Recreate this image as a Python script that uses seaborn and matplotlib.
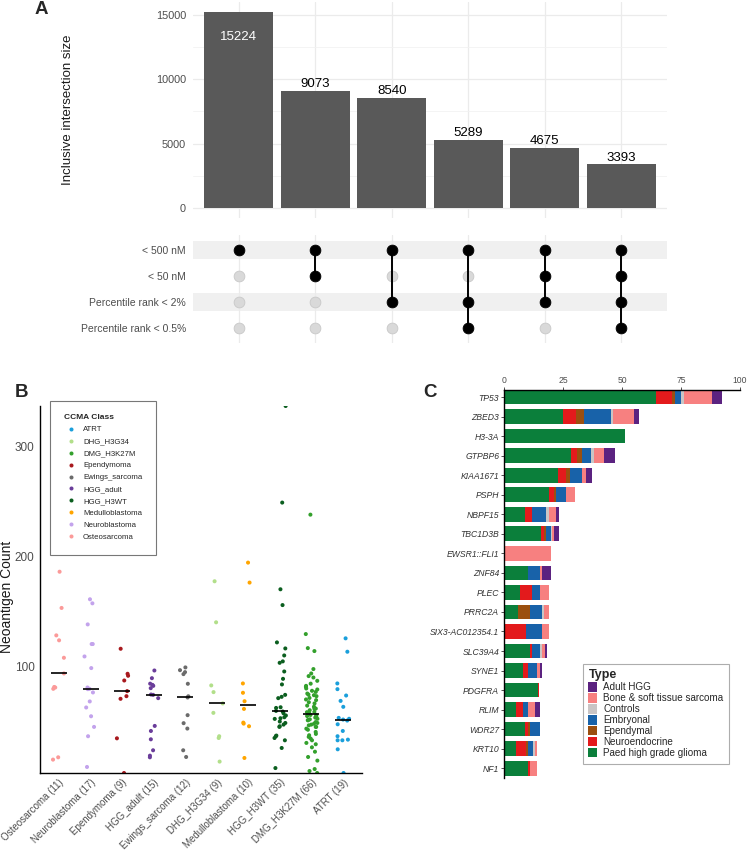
import numpy as np
import pandas as pd
import seaborn as sns
import matplotlib.pyplot as plt
from matplotlib.ticker import MultipleLocator

sns.set_theme(style="white")
plt.rcParams["font.family"] = ["Liberation Sans", "DejaVu Sans"]

# ---------------- panel A data (upset) ----------------
set_names = ["< 500 nM", "< 50 nM", "Percentile rank < 2%", "Percentile rank < 0.5%"]
inter_sizes = [15224, 9073, 8540, 5289, 4675, 3393]
inter_members = [
    ["< 500 nM"],
    ["< 500 nM", "< 50 nM"],
    ["< 500 nM", "Percentile rank < 2%"],
    ["< 500 nM", "Percentile rank < 2%", "Percentile rank < 0.5%"],
    ["< 500 nM", "< 50 nM", "Percentile rank < 2%"],
    ["< 500 nM", "< 50 nM", "Percentile rank < 2%", "Percentile rank < 0.5%"],
]

# ---------------- panel B data (neoantigen counts) ----------------
osteosarcoma = [186, 153, 128, 123.5, 107.6, 93.3, 81, 80.5, 79.3, 16.9, 14.8]
neuroblastoma = [160.9, 157.2, 138, 120.1, 120.1, 108.8, 98.2, 80.5, 79.3, 79.0, 76.0,
                 67.8, 62.3, 54.3, 44.6, 36.1, 8.1]
ependymoma = [115.8, 93.0, 91.2, 86.9, 77.2, 72.6, 70.2, 34.2, 2.6]
hgg_adult = [96.0, 89.0, 84.0, 82.9, 82.0, 79.9, 74.1, 73.8, 70.8, 45.5, 40.9, 33.3,
             23.3, 18.4, 16.9]
ewings_sarcoma = [98.8, 96.3, 94.5, 92.7, 83.9, 72.5, 71.4, 55.3, 48.0, 43.1, 23.3, 17.2]
dhg_h3g34 = [177.3, 139.9, 82.4, 76.3, 66.0, 57.4, 36.1, 34.5, 13.0]
medulloblastoma = [194.3, 176.1, 84.2, 75.7, 68.0, 61.0, 48.5, 47.6, 45.2, 16.3]
hgg_h3wt = [337, 249, 170, 155.6, 121.6, 116.1, 109.7, 104.3, 103.0, 95.1, 88.4, 83.3,
            73.8, 72.0, 70.8, 62.5, 61.9, 59.2, 58.6, 57.0, 55.0, 53.4, 52.5, 51.9,
            49.5, 48.2, 46.7, 45.2, 44.6, 36.7, 36.1, 34.5, 32.4, 25.4, 7.1]
dmg_h3k27m = [238, 129.2, 116.4, 113.7, 97.3, 93.3, 90.9, 89.6, 86.6, 84,
              82, 81.1, 79.6, 78.7, 77.5, 76.5, 75.0, 74, 73.5, 72.6,
              71, 69.6, 69.0, 67.1, 66, 64, 63, 61.3, 61.3, 59.8,
              58.3, 58.0, 57.5, 55.5, 55.3, 54.5, 54, 53.1, 52, 51.5,
              50.7, 50.7, 49, 48.2, 47.5, 46.7, 46, 44.6, 44.6, 43,
              42, 40, 38.2, 37, 35.5, 34.0, 32.4, 30.0, 28.8, 26,
              22, 17.2, 13.9, 6.2, 4.4, 2.6]
atrt = [125.3, 113.1, 84.2, 79.0, 73.2, 68.3, 62.9, 52.8, 52.0, 51.3, 50.4, 47.0,
        40.9, 36.1, 33.0, 32.4, 32.4, 24.2, 2.6]

ccma_classes = ["ATRT", "DHG_H3G34", "DMG_H3K27M", "Ependymoma", "Ewings_sarcoma",
                "HGG_adult", "HGG_H3WT", "Medulloblastoma", "Neuroblastoma", "Osteosarcoma"]
ccma_colors = ["#1a9fdb", "#b2df8a", "#33a02c", "#a8191e", "#6b6b6b",
               "#6a3d9a", "#0b5e1f", "#ffa500", "#c3a3ec", "#fb9a99"]
class_values = [atrt, dhg_h3g34, dmg_h3k27m, ependymoma, ewings_sarcoma,
                hgg_adult, hgg_h3wt, medulloblastoma, neuroblastoma, osteosarcoma]

# ---------------- panel C data (recurrent genes) ----------------
genes = ["TP53", "ZBED3", "H3-3A", "GTPBP6", "KIAA1671", "PSPH", "NBPF15", "TBC1D3B",
         "EWSR1::FLI1", "ZNF84", "PLEC", "PRRC2A", "SIX3-AC012354.1", "SLC39A4", "SYNE1",
         "PDGFRA", "RLIM", "WDR27", "KRT10", "NF1"]
paed_hgg = [64.2, 25.2, 51.1, 28.2, 23.0, 19.2, 9.0, 15.7, 0, 10.1, 6.9, 6.1, 0, 11.0, 8.0,
            14.2, 5.0, 9.0, 5.0, 10.1]
neuroendocrine = [7.1, 5.1, 0, 2.9, 3.1, 1.8, 3.0, 1.2, 0, 0, 5.1, 0, 9.2, 0.9, 2.1,
                  0.7, 3.0, 1.1, 4.2, 1.0]
ependymal = [1.0, 3.6, 0, 2.0, 1.9, 1.0, 0, 0.9, 0, 0, 0, 5.0, 0, 0, 0,
             0, 0, 1.0, 0.9, 0]
embryonal = [2.9, 11.3, 0, 3.9, 5.1, 4.2, 5.9, 2.1, 0, 5.0, 3.2, 4.8, 6.9, 3.2, 4.0,
             0, 2.1, 4.1, 2.0, 0]
controls = [1.1, 1.0, 0, 1.2, 0, 0, 1.3, 0.4, 0, 0, 0, 1.1, 0, 0.8, 0,
            0, 0, 0, 1.0, 0]
bone_sarcoma = [12.0, 9.0, 0, 4.1, 1.8, 3.9, 2.9, 0.9, 20.1, 1.1, 4.0, 2.2, 3.1, 1.3, 1.1,
                0, 3.0, 0, 1.0, 3.0]
adult_hgg = [4.0, 2.0, 0, 4.7, 2.3, 0, 1.0, 2.0, 0, 3.9, 0, 0, 0, 0.9, 0.9,
             0, 2.1, 0, 0, 0]
type_names = ["Adult HGG", "Bone & soft tissue sarcoma", "Controls", "Embryonal",
              "Ependymal", "Neuroendocrine", "Paed high grade glioma"]
type_colors = ["#5b2280", "#f78080", "#c9c5c5", "#1862a9", "#9b4f0f", "#e31a1c", "#0b7f3b"]
type_values = [adult_hgg, bone_sarcoma, controls, embryonal, ependymal, neuroendocrine, paed_hgg]

W, H = 748, 852
fig = plt.figure(figsize=(W / 100, H / 100), dpi=100)


def box(x0, y0, x1, y1):
    return [x0 / W, 1 - y1 / H, (x1 - x0) / W, (y1 - y0) / H]


grey_txt = "#4d4d4d"

# ================= A: intersection bars =================
axA = fig.add_axes(box(193, 2, 667, 218))
dfA = pd.DataFrame({"inter": range(len(inter_sizes)), "size": inter_sizes})
sns.barplot(data=dfA, x="inter", y="size", color="#595959", saturation=1, width=0.9,
            linewidth=0, ax=axA)
axA.set_xlim(-0.6, len(inter_sizes) - 0.4)
axA.set_ylim(-0.05 * max(inter_sizes), 1.05 * max(inter_sizes))
axA.set_yticks([0, 5000, 10000, 15000])
axA.yaxis.set_minor_locator(MultipleLocator(2500))
axA.grid(True, which="major", color="#ebebeb", lw=0.9)
axA.grid(True, which="minor", axis="y", color="#f2f2f2", lw=0.6)
axA.set_axisbelow(True)
axA.tick_params(axis="x", labelbottom=False, length=0)
axA.tick_params(axis="y", which="both", length=0, labelsize=7.8, labelcolor=grey_txt, pad=5)
for s in axA.spines.values():
    s.set_visible(False)
for i, v in enumerate(inter_sizes):
    if i == 0:
        axA.text(i, v - 1450, str(v), ha="center", va="top", color="white", fontsize=9.5)
    else:
        axA.text(i, v + 60, str(v), ha="center", va="bottom", color="black", fontsize=9.5)
axA.set_xlabel("")
axA.set_ylabel("Inclusive intersection size", fontsize=9.5, color="#1a1a1a")
axA.yaxis.set_label_coords(-0.252, 0.5)

# ================= A: matrix =================
axM = fig.add_axes(box(193, 235, 667, 343))
rows = []
for j, mem in enumerate(inter_members):
    for i, s in enumerate(set_names):
        rows.append({"inter": j, "row": i, "member": s in mem})
dfM = pd.DataFrame(rows)
for i in range(0, len(set_names), 2):
    axM.axhspan(i - 0.35, i + 0.35, color="#f0f0f0", zorder=0, lw=0)
sns.scatterplot(data=dfM[~dfM["member"]], x="inter", y="row", color="#d9d9d9", s=60,
                edgecolor="#c8c8c8", linewidth=0.6, ax=axM, zorder=3)
sns.scatterplot(data=dfM[dfM["member"]], x="inter", y="row", color="black", s=60,
                edgecolor="black", linewidth=0.6, ax=axM, zorder=4)
on = dfM[dfM["member"]].groupby("inter")["row"].agg(["min", "max"])
axM.vlines(on.index, on["min"], on["max"], color="black", lw=1.4, zorder=3)
axM.set_xlim(-0.6, len(inter_sizes) - 0.4)
axM.set_ylim(len(set_names) - 0.4, -0.6)
axM.set_xticks(range(len(inter_sizes)))
axM.set_yticks(range(len(set_names)))
axM.set_yticklabels(set_names)
axM.grid(True, axis="x", color="#ebebeb", lw=0.9)
axM.grid(False, axis="y")
axM.set_axisbelow(True)
axM.tick_params(axis="x", labelbottom=False, length=0)
axM.tick_params(axis="y", length=0, labelsize=7.5, labelcolor=grey_txt, pad=5)
axM.set_xlabel("")
axM.set_ylabel("")
for s in axM.spines.values():
    s.set_visible(False)

# ================= B: neoantigen strip plot =================
axB = fig.add_axes(box(40, 406, 362, 773))
dfB = pd.DataFrame({
    "cls": np.repeat(ccma_classes, [len(v) for v in class_values]),
    "count": np.concatenate(class_values),
})
med = dfB.groupby("cls")["count"].median().sort_values(ascending=False)
order = list(med.index)
n_per = dfB.groupby("cls").size()
pal = dict(zip(ccma_classes, ccma_colors))
np.random.seed(3)
sns.pointplot(data=dfB, x="cls", y="count", order=order, estimator="median", errorbar=None,
              color="black", markers="_", markersize=11, markeredgewidth=1.2,
              linestyle="none", ax=axB, zorder=3)
sns.stripplot(data=dfB, x="cls", y="count", order=order, hue="cls", hue_order=ccma_classes,
              palette=pal, jitter=0.2, size=2.9, linewidth=0, ax=axB, zorder=2, legend=True)
axB.set_xlim(-0.6, len(order) - 0.4)
axB.set_ylim(dfB["count"].min(), dfB["count"].max())
axB.set_yticks([100, 200, 300])
axB.set_xticks(range(len(order)))
axB.set_xticklabels([f"{c} ({n_per[c]})" for c in order], rotation=45, ha="right",
                    va="top", rotation_mode="anchor")
axB.tick_params(axis="x", labelsize=7, labelcolor=grey_txt, length=0, pad=3)
axB.tick_params(axis="y", labelsize=8.5, labelcolor=grey_txt, length=0, pad=4)
for side in ["top", "right"]:
    axB.spines[side].set_visible(False)
for side in ["left", "bottom"]:
    axB.spines[side].set_color("black")
    axB.spines[side].set_linewidth(1.0)
axB.set_xlabel("")
axB.set_ylabel("Neoantigen Count", fontsize=10, color="#1a1a1a")
axB.yaxis.set_label_coords(-0.082, 0.48)
sns.move_legend(axB, "upper left", bbox_to_anchor=(0.031, 1.014), borderaxespad=0,
                title="CCMA Class", frameon=True, fontsize=5.6,
                title_fontproperties={"weight": "bold", "size": 6},
                markerscale=1.0, labelspacing=0.58, handletextpad=0.5,
                borderpad=1.75, alignment="left", fancybox=False, edgecolor="#555555")
axB.get_legend().get_frame().set_linewidth(0.8)

# ================= C: stacked gene bars =================
axC = fig.add_axes(box(504, 390, 740, 778))
rowsC = []
for t, vals in zip(type_names, type_values):
    for g, v in zip(genes, vals):
        rowsC.append({"gene": genes.index(g), "type": t, "pct": v})
dfC = pd.DataFrame(rowsC)
sns.histplot(data=dfC, y="gene", weights="pct", hue="type", hue_order=type_names,
             palette=dict(zip(type_names, type_colors)), multiple="stack", discrete=True,
             shrink=0.75, linewidth=0, alpha=1, ax=axC)
axC.set_xlim(0, 100)
axC.set_ylim(len(genes) - 0.5, -0.36)
axC.set_yticks(range(len(genes)))
axC.set_yticklabels(genes, fontstyle="italic")
axC.set_xticks([0, 25, 50, 75, 100])
axC.xaxis.set_ticks_position("top")
axC.tick_params(axis="x", top=True, bottom=False, labeltop=True, labelbottom=False,
                labelsize=6.2, labelcolor=grey_txt, length=2, width=0.6, pad=1.5,
                color="#333333")
axC.tick_params(axis="y", left=True, labelsize=6.2, labelcolor="#333333", length=2,
                width=0.6, pad=1.5, color="#333333")
for side in ["bottom", "right"]:
    axC.spines[side].set_visible(False)
for side in ["top", "left"]:
    axC.spines[side].set_color("black")
    axC.spines[side].set_linewidth(1.0)
axC.set_xlabel("")
axC.set_ylabel("")
sns.move_legend(axC, "upper left", bbox_to_anchor=(0.335, 0.294), borderaxespad=0,
                title="Type", frameon=True, fontsize=7.1,
                title_fontproperties={"weight": "bold", "size": 9},
                labelspacing=0.1, handlelength=0.9, handleheight=1.05, handletextpad=0.6,
                borderpad=0.55, alignment="left", fancybox=False, edgecolor="#999999")
axC.get_legend().get_frame().set_linewidth(0.8)

# ================= panel letters =================
for lab, x, y in [("A", 41, 10), ("B", 22, 393), ("C", 430, 393)]:
    fig.text(x / W, 1 - y / H, lab, fontsize=13.5, weight="bold", ha="center", va="center")

fig.savefig("out.png", dpi=100)
